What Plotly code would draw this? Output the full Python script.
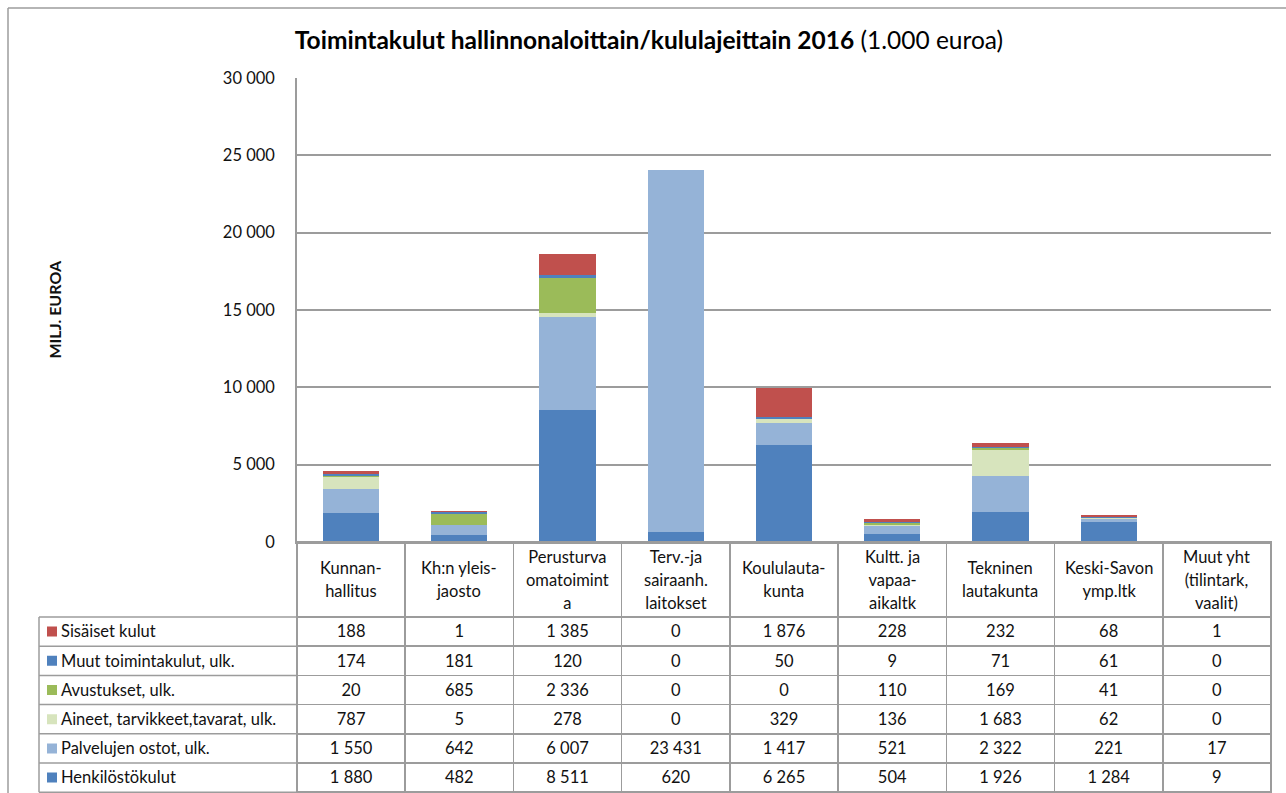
import plotly.graph_objects as go

categories = ["Kunnan-<br>hallitus", "Kh:n yleis-<br>jaosto", "Perusturva<br>omatoimint<br>a",
              "Terv.-ja<br>sairaanh.<br>laitokset", "Koululauta-<br>kunta", "Kultt. ja<br>vapaa-<br>aikaltk",
              "Tekninen<br>lautakunta", "Keski-Savon<br>ymp.ltk", "Muut yht<br>(tilintark,<br>vaalit)"]
cat_ids = ["Kunnanhallitus", "Kh:n yleisjaosto", "Perusturva", "Terv.-ja sairaanh.", "Koululautakunta",
           "Kultt. ja vapaa-aikaltk", "Tekninen lautakunta", "Keski-Savon ymp.ltk", "Muut yht"]

henkilosto = [1880, 482, 8511, 620, 6265, 504, 1926, 1284, 9]
palvelut = [1550, 642, 6007, 23431, 1417, 521, 2322, 221, 17]
aineet = [787, 5, 278, 0, 329, 136, 1683, 62, 0]
avustukset = [20, 685, 2336, 0, 0, 110, 169, 41, 0]
muut = [174, 181, 120, 0, 50, 9, 71, 61, 0]
sisaiset = [188, 1, 1385, 0, 1876, 228, 232, 68, 1]

series_bottom_up = [
    ("Henkilöstökulut", henkilosto, "#4F81BD"),
    ("Palvelujen ostot, ulk.", palvelut, "#95B3D7"),
    ("Aineet, tarvikkeet,tavarat, ulk.", aineet, "#D7E4BD"),
    ("Avustukset, ulk.", avustukset, "#9BBB59"),
    ("Muut toimintakulut, ulk.", muut, "#4F81BD"),
    ("Sisäiset kulut", sisaiset, "#C0504D"),
]

W, H = 1286, 793
FONT = "Lato"
GRID = "#9C9C9C"
CLEAR = "rgba(0,0,0,0)"
TXT = 16.5

fig = go.Figure()
for name, vals, col in series_bottom_up:
    fig.add_trace(go.Bar(x=cat_ids, y=vals, name=name, marker=dict(color=col, line=dict(width=0)),
                         showlegend=False))

NB = "\u00a0"

def fmt(v):
    return f"{v:,}".replace(",", NB)

table_rows = list(reversed(series_bottom_up))
first_col = [n.replace(" ", NB) for n, v, c in table_rows]
cols = [first_col] + [[fmt(v[i]) for n, v, c in table_rows] for i in range(len(cat_ids))]

plot_left, plot_right, plot_top, plot_bottom = 297, 1271, 78, 542
table_left = 39
header_h = 75
row_h = 29.2
key_w = 14  # room for the colour key in the first column
colw = [key_w, plot_left - table_left - key_w] + [(plot_right - plot_left) / 9] * 9

# table: narrow key column + label column + 9 value columns
key_col = [""] * len(table_rows)
fig.add_trace(go.Table(
    domain=dict(x=[table_left / W, plot_right / W], y=[0, (H - plot_bottom) / H]),
    columnwidth=colw,
    header=dict(values=[""] * 11, height=header_h,
                line=dict(color=[CLEAR, CLEAR] + [GRID] * 9, width=1.5),
                fill=dict(color=CLEAR)),
    cells=dict(values=[key_col] + cols, height=row_h,
               align=["left", "left"] + ["center"] * 9,
               line=dict(color=[CLEAR, CLEAR] + [GRID] * 9, width=1.5),
               fill=dict(color=CLEAR),
               font=dict(family=FONT, size=TXT, color="#111")),
))

# borders of the combined first column (key + label)
rows_top = plot_bottom + header_h
for i in range(len(table_rows) + 1):
    yy = 1 - (rows_top + row_h * i) / H
    fig.add_shape(type="line", xref="paper", yref="paper", x0=table_left / W, x1=plot_left / W,
                  y0=yy, y1=yy, line=dict(color=GRID, width=1.5))
fig.add_shape(type="line", xref="paper", yref="paper", x0=table_left / W, x1=table_left / W,
              y0=1 - rows_top / H, y1=1 - (rows_top + row_h * len(table_rows)) / H,
              line=dict(color=GRID, width=1.5))

# colour keys (drawn on a helper axis over the first column)
fig.add_trace(go.Scatter(
    x=[0.5] * len(table_rows), y=list(range(len(table_rows))), mode="markers",
    marker=dict(symbol="square", size=10, color=[c for n, v, c in table_rows]),
    xaxis="x2", yaxis="y2", showlegend=False, hoverinfo="skip"))

for i, c in enumerate(categories):
    fig.add_annotation(x=cat_ids[i], xref="x", y=(H - (plot_bottom + header_h / 2)) / H, yref="paper",
                       text=f"<span style='font-size:{TXT}px'>{c}</span>", showarrow=False,
                       yanchor="middle", xanchor="center",
                       font=dict(family=FONT, size=17.5, color="#111"))

fig.add_annotation(x=43 / W, y=1 - 310 / H, xref="paper", yref="paper", text="<b>MILJ. EUROA</b>",
                   textangle=-90, showarrow=False, font=dict(family=FONT, size=16, color="#111"))

# outer chart border (top and left)
fig.add_shape(type="line", xref="paper", yref="paper", x0=8 / W, x1=1.01, y0=1 - 8 / H, y1=1 - 8 / H,
              line=dict(color=GRID, width=1.5))
fig.add_shape(type="line", xref="paper", yref="paper", x0=8 / W, x1=8 / W, y0=1 - 8 / H, y1=-0.01,
              line=dict(color=GRID, width=1.5))

n_rows = len(table_rows)
fig.update_layout(
    width=W, height=H, autosize=False,
    margin=dict(l=0, r=0, t=0, b=0, pad=0),
    paper_bgcolor="white", plot_bgcolor="white",
    barmode="stack", bargap=0.48,
    separators=", ",
    title=dict(text="<b>Toimintakulut hallinnonaloittain/kululajeittain 2016</b> (1.000 euroa)",
               x=649 / W, xanchor="center", y=1 - 40 / H, yanchor="middle",
               font=dict(family=FONT, size=24.5, color="#000")),
    xaxis=dict(domain=[plot_left / W, plot_right / W], showticklabels=False, showline=True,
               linecolor=GRID, linewidth=1.5, showgrid=False, zeroline=False, automargin=False),
    yaxis=dict(domain=[(H - plot_bottom) / H, (H - plot_top) / H], range=[0, 30000], dtick=5000,
               tickformat=",d", showgrid=True, gridcolor=GRID, gridwidth=1.5, showline=True,
               linecolor=GRID, linewidth=1.5, zeroline=False, ticks="", ticklabelstandoff=17,
               automargin=False, tickfont=dict(family=FONT, size=16.5, color="#111")),
    xaxis2=dict(domain=[(table_left + 6) / W, (table_left + 6 + key_w) / W], range=[0, 1],
                visible=False, fixedrange=True, anchor="y2"),
    yaxis2=dict(domain=[(H - rows_top - row_h * n_rows) / H, (H - rows_top) / H],
                range=[n_rows - 0.5, -0.5], visible=False, fixedrange=True, anchor="x2"),
    font=dict(family=FONT),
)

fig.write_html("out.html", config={"displayModeBar": False},
               post_script="document.body.style.margin='0';document.body.style.overflow='hidden';")
